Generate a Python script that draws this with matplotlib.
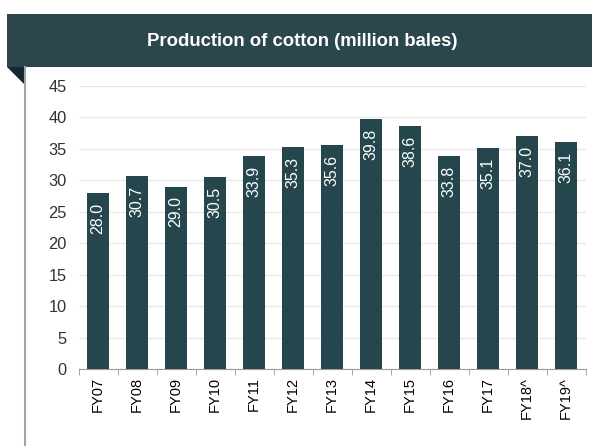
import numpy as np
import matplotlib.pyplot as plt
from matplotlib.patches import Rectangle, Polygon
from matplotlib.lines import Line2D

# data
years = ['FY07', 'FY08', 'FY09', 'FY10', 'FY11', 'FY12', 'FY13',
         'FY14', 'FY15', 'FY16', 'FY17', 'FY18^', 'FY19^']
production = [28.0, 30.7, 29.0, 30.5, 33.9, 35.3, 35.6,
              39.8, 38.6, 33.8, 35.1, 37.0, 36.1]

bar_color = '#24464c'
head_color = '#2b474d'

fig = plt.figure(figsize=(5.92, 4.46), dpi=100)
fig.patch.set_facecolor('white')

# header banner + folded corner + left border
W, H = 592, 446
fig.add_artist(Rectangle((7 / W, 1 - 67 / H), 1, 53 / H, transform=fig.transFigure,
                         facecolor=head_color, edgecolor='none'))
fig.add_artist(Polygon([(7 / W, 1 - 67 / H), (25 / W, 1 - 67 / H), (25 / W, 1 - 85 / H)],
                       closed=True, transform=fig.transFigure,
                       facecolor='#16282c', edgecolor='none'))
fig.add_artist(Line2D([25 / W, 25 / W], [0, 1 - 67 / H], transform=fig.transFigure,
                      color='#9aa5a8', lw=1.5))
fig.text(302 / W, 1 - 41 / H, 'Production of cotton (million bales)', color='white',
         fontsize=13.3, fontweight='bold', ha='center', va='center',
         family='Liberation Sans')

ax = fig.add_axes([78.5 / W, 1 - 369 / H, 507 / W, 283 / H])
x = np.arange(len(years))
bars = ax.bar(x, production, width=0.57, color=bar_color, zorder=3)

for xi, v in zip(x, production):
    ax.annotate(f'{v:.1f}', (xi, v), xytext=(0, -7), textcoords='offset points',
                rotation=90, ha='center', va='top', color='white', fontsize=11.5,
                family='Liberation Sans')

ax.set_xlim(-0.5, len(years) - 0.5)
ax.set_ylim(0, 45)
ax.set_yticks(np.arange(0, 46, 5))
ax.yaxis.grid(True, color='#e8e8e8', lw=1)
ax.set_axisbelow(True)

ax.set_xticks(x)
ax.set_xticklabels(years, rotation=90, fontsize=10.5, family='Liberation Sans')
ax.set_xticks(np.arange(-0.5, len(years), 1), minor=True)
ax.tick_params(axis='x', which='major', length=0, pad=6)
ax.tick_params(axis='x', which='minor', length=4, color='#9a9a9a', direction='out')
ax.tick_params(axis='y', length=0, pad=8.5, labelsize=11.8)
for lab in ax.get_yticklabels():
    lab.set_family('Liberation Sans')
    lab.set_color('#333333')

for s in ['top', 'right', 'left']:
    ax.spines[s].set_visible(False)
ax.spines['bottom'].set_color('#9a9a9a')

plt.savefig('out.png', dpi=100)
